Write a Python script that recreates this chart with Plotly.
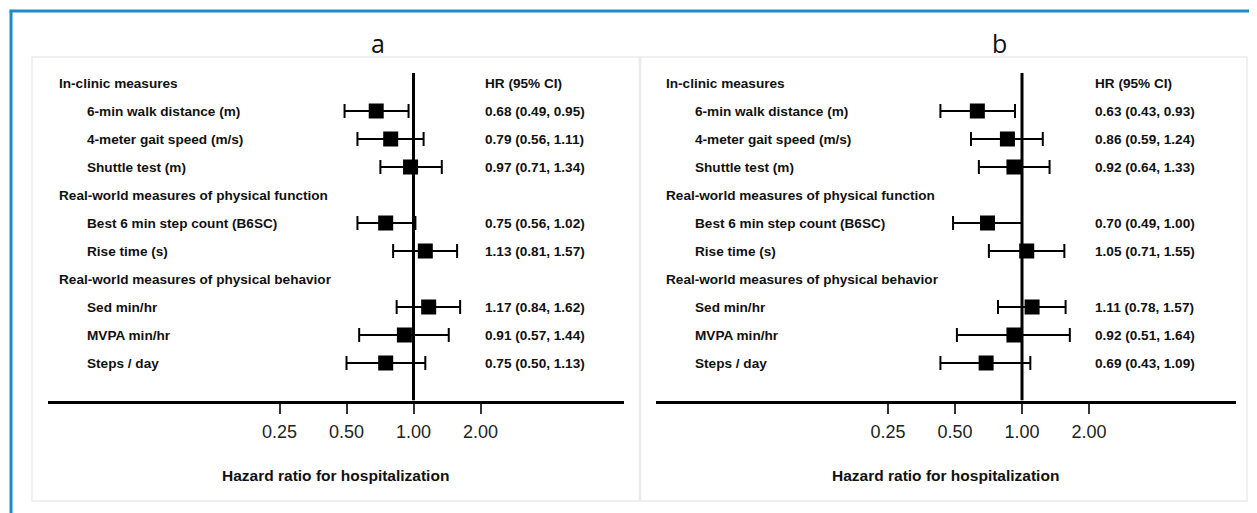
import math
import plotly.graph_objects as go

W, H = 1257, 513
OFF = 8  # browser body margin, compensated so the picture lands at the intended pixels

row_labels = [
    "In-clinic measures",
    "6-min walk distance (m)",
    "4-meter gait speed (m/s)",
    "Shuttle test (m)",
    "Real-world measures of physical function",
    "Best 6 min step count (B6SC)",
    "Rise time (s)",
    "Real-world measures of physical behavior",
    "Sed min/hr",
    "MVPA min/hr",
    "Steps / day",
]
is_header = [True, False, False, False, True, False, False, True, False, False, False]

hr_a = [None, 0.68, 0.79, 0.97, None, 0.75, 1.13, None, 1.17, 0.91, 0.75]
lo_a = [None, 0.49, 0.56, 0.71, None, 0.56, 0.81, None, 0.84, 0.57, 0.50]
hi_a = [None, 0.95, 1.11, 1.34, None, 1.02, 1.57, None, 1.62, 1.44, 1.13]

hr_b = [None, 0.63, 0.86, 0.92, None, 0.70, 1.05, None, 1.11, 0.92, 0.69]
lo_b = [None, 0.43, 0.59, 0.64, None, 0.49, 0.71, None, 0.78, 0.51, 0.43]
hi_b = [None, 0.93, 1.24, 1.33, None, 1.00, 1.55, None, 1.57, 1.64, 1.09]

tick_vals = [0.25, 0.5, 1.0, 2.0]
tick_text = ["0.25", "0.50", "1.00", "2.00"]
panel_titles = ["a", "b"]
x_title = "Hazard ratio for hospitalization"
ci_header = "HR (95% CI)"

BOLD = "Liberation Sans"


def px(x):
    return (x - OFF) / W


def py(y):
    return 1 - (y - OFF) / H


# pixel layout
row0, row_step = 83.0, 28.0
axis_y = 400.5
top_y = 58.0
y_range = [(axis_y - row0) / row_step, (top_y - row0) / row_step]

panels = [
    dict(hr=hr_a, lo=lo_a, hi=hi_a, ax0=47.8, ax1=623.7, one=413.5, title_x=378,
         hdr_x=57, item_x=85, ci_x=483, box=(32, 57, 639.5, 501)),
    dict(hr=hr_b, lo=lo_b, hi=hi_b, ax0=656.0, ax1=1235.5, one=1022.0, title_x=1000,
         hdr_x=664, item_x=693, ci_x=1093, box=(640.5, 57, 1247, 501)),
]

per_px = math.log10(2) / 67.0

fig = go.Figure()
annotations = []
shapes = []

for i, p in enumerate(panels):
    xa = "x" if i == 0 else "x2"
    ya = "y" if i == 0 else "y2"
    rows = [r for r in range(len(row_labels)) if p["hr"][r] is not None]
    xs = [p["hr"][r] for r in rows]
    plus = [p["hi"][r] - p["hr"][r] for r in rows]
    minus = [p["hr"][r] - p["lo"][r] for r in rows]
    # reference line at HR = 1
    fig.add_trace(go.Scatter(x=[1, 1], y=[(73 - row0) / row_step, y_range[0]], mode="lines",
                             line=dict(color="black", width=3), xaxis=xa, yaxis=ya,
                             showlegend=False, hoverinfo="skip"))
    fig.add_trace(go.Scatter(
        x=xs, y=rows, mode="markers", xaxis=xa, yaxis=ya, showlegend=False,
        marker=dict(symbol="square", size=15, color="black", line=dict(width=0)),
        error_x=dict(type="data", symmetric=False, array=plus, arrayminus=minus,
                     color="black", thickness=2, width=7),
    ))
    for r, lab in enumerate(row_labels):
        annotations.append(dict(
            x=px(p["hdr_x"] if is_header[r] else p["item_x"]), xref="paper",
            y=r, yref=ya, text=f"<b>{lab}</b>", showarrow=False,
            xanchor="left", yanchor="middle",
            font=dict(family=BOLD, size=13.6, color="#111")))
        if p["hr"][r] is not None:
            annotations.append(dict(
                x=px(p["ci_x"]), xref="paper", y=r, yref=ya,
                text=f"<b>{p['hr'][r]:.2f} ({p['lo'][r]:.2f}, {p['hi'][r]:.2f})</b>",
                showarrow=False, xanchor="left", yanchor="middle",
                font=dict(family=BOLD, size=13.6, color="#111")))
    annotations.append(dict(x=px(p["ci_x"]), xref="paper", y=0, yref=ya,
                            text=f"<b>{ci_header}</b>", showarrow=False,
                            xanchor="left", yanchor="middle",
                            font=dict(family=BOLD, size=13.6, color="#111")))
    annotations.append(dict(x=px(p["title_x"]), xref="paper", y=py(43), yref="paper",
                            text=panel_titles[i], showarrow=False, xanchor="center",
                            yanchor="middle", font=dict(family="Open Sans", size=25, color="#111")))
    annotations.append(dict(x=px((p["ax0"] + p["ax1"]) / 2), xref="paper", y=py(475), yref="paper",
                            text=f"<b>{x_title}</b>", showarrow=False, xanchor="center",
                            yanchor="middle", font=dict(family=BOLD, size=15.5, color="#111")))
    bx0, by0, bx1, by1 = p["box"]
    shapes.append(dict(type="rect", xref="paper", yref="paper", x0=px(bx0), x1=px(bx1),
                       y0=py(by1), y1=py(by0), line=dict(color="#ebebeb", width=1.5), layer="below"))

    rng = [(p["ax0"] - p["one"]) * per_px, (p["ax1"] - p["one"]) * per_px]
    xaxis = dict(type="log", range=rng, domain=[px(p["ax0"]), px(p["ax1"])],
                 anchor=ya, tickvals=tick_vals, ticktext=tick_text,
                 ticks="outside", ticklen=10, tickwidth=1.5, tickcolor="#333",
                 showline=True, linecolor="black", linewidth=3, showgrid=False,
                 zeroline=False, tickfont=dict(family="Liberation Sans", size=18, color="#222"),
                 ticklabelstandoff=3, fixedrange=True)
    yaxis = dict(range=y_range, domain=[py(axis_y), py(top_y)], visible=False,
                 showgrid=False, zeroline=False, anchor=xa, fixedrange=True)
    if i == 0:
        fig.update_layout(xaxis=xaxis, yaxis=yaxis)
    else:
        fig.update_layout(xaxis2=xaxis, yaxis2=yaxis)

# outer blue frame (top and left edges)
blue = "#1f8ac8"
shapes.append(dict(type="line", xref="paper", yref="paper", x0=px(9.5), x1=1, y0=py(11), y1=py(11),
                   line=dict(color=blue, width=3)))
shapes.append(dict(type="line", xref="paper", yref="paper", x0=px(11), x1=px(11), y0=py(11), y1=0,
                   line=dict(color=blue, width=3)))

fig.update_layout(width=W, height=H, margin=dict(l=0, r=0, t=0, b=0),
                  paper_bgcolor="white", plot_bgcolor="rgba(0,0,0,0)",
                  annotations=annotations, shapes=shapes, showlegend=False)

fig.write_html("out.html")
